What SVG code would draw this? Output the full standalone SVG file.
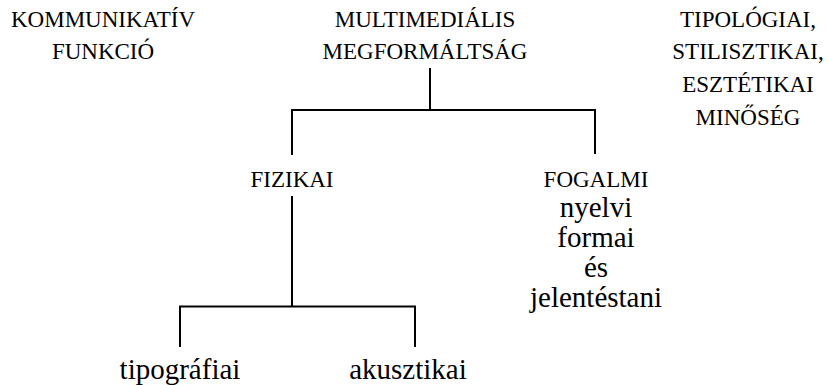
<svg xmlns="http://www.w3.org/2000/svg" width="828" height="385" viewBox="0 0 828 385">
<style>
text{fill:#000;text-anchor:middle;font-family:"Liberation Serif","DejaVu Serif","Noto Serif",Tinos,Times,serif}
.u{font-size:23px}
.l{font-size:29px}
.c{stroke:#000;stroke-width:2;fill:none}
</style>
<rect width="828" height="385" fill="#fff"/>
<g id="kommunikativ"><text class="u" x="103" y="26.5" font-family="Liberation Serif">KOMMUNIKATÍV</text><text class="u" x="103" y="59" font-family="Liberation Serif">FUNKCIÓ</text></g>
<g id="multimedialis"><text class="u" x="425" y="26.5" font-family="Liberation Serif">MULTIMEDIÁLIS</text><text class="u" x="425" y="59" font-family="Liberation Serif">MEGFORMÁLTSÁG</text></g>
<g id="tipologiai"><text class="u" x="748" y="26.5" font-family="Liberation Serif">TIPOLÓGIAI,</text><text class="u" x="748" y="59" font-family="Liberation Serif">STILISZTIKAI,</text><text class="u" x="748" y="92" font-family="Liberation Serif">ESZTÉTIKAI</text><text class="u" x="748" y="124.5" font-family="Liberation Serif">MINŐSÉG</text></g>
<g id="fizikai"><text class="u" x="292" y="187" font-family="Liberation Serif">FIZIKAI</text></g>
<g id="fogalmi"><text class="u" x="596" y="187" font-family="Liberation Serif">FOGALMI</text><text class="l" x="596" y="217" font-family="Liberation Serif">nyelvi</text><text class="l" x="596" y="247" font-family="Liberation Serif">formai</text><text class="l" x="596" y="277" font-family="Liberation Serif">és</text><text class="l" x="596" y="307" font-family="Liberation Serif">jelentéstani</text></g>
<g id="tipografiai"><text class="l" x="180" y="379" font-family="Liberation Serif">tipográfiai</text></g>
<g id="akusztikai"><text class="l" x="408" y="379" font-family="Liberation Serif">akusztikai</text></g>
<g id="connectors">
<path class="c" d="M430 68V110M292 155V110H595V154"/>
<path class="c" d="M292 196V306.5M180 347V306.5H415V347"/>
</g>
</svg>
